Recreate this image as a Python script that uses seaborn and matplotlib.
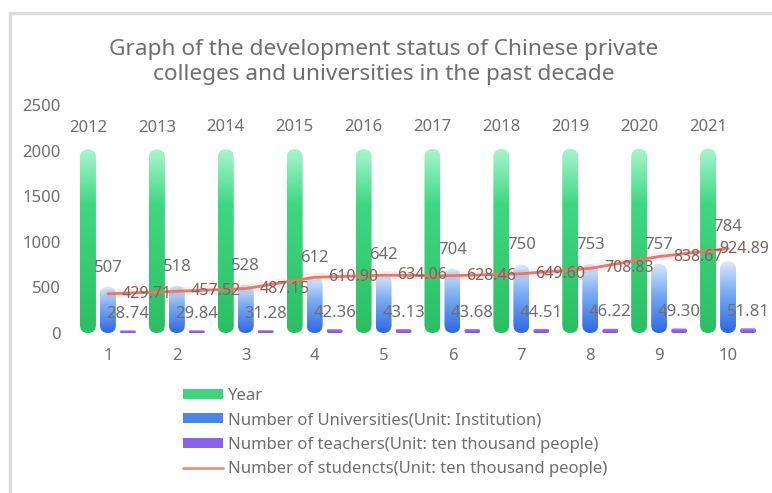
import numpy as np
import pandas as pd
import matplotlib
matplotlib.use("Agg")
import matplotlib.pyplot as plt
import seaborn as sns
from matplotlib.patches import FancyBboxPatch, Patch
from matplotlib.lines import Line2D
from matplotlib.colors import LinearSegmentedColormap

# ---------------- data ----------------
positions = [str(i) for i in range(1, 11)]
years = [2012, 2013, 2014, 2015, 2016, 2017, 2018, 2019, 2020, 2021]
universities = [507, 518, 528, 612, 642, 704, 750, 753, 757, 784]
teachers = [28.74, 29.84, 31.28, 42.36, 43.13, 43.68, 44.51, 46.22, 49.30, 51.81]
students = [429.71, 457.52, 487.15, 610.90, 634.06, 628.46, 649.60, 708.83, 838.67, 924.89]
series_names = [
    "Year",
    "Number of Universities(Unit: Institution)",
    "Number of teachers(Unit: ten thousand people)",
    "Number of studencts(Unit: ten thousand people)",
]
title = ("Graph of the development status of Chinese private\n"
         "colleges and universities in the past decade")
y_ticks = [0, 500, 1000, 1500, 2000, 2500]

# ---------------- style ----------------
sns.set_theme(style="white")
plt.rcParams["font.family"] = ["Noto Sans", "DejaVu Sans"]
TXT = "#6f6f6f"

W, H = 772, 493
fig = plt.figure(figsize=(W / 100, H / 100), dpi=100)
ax_l, ax_r, ax_t, ax_b = 73.5, 762.5, 105, 333
ax = fig.add_axes([ax_l / W, 1 - ax_b / H, (ax_r - ax_l) / W, (ax_b - ax_t) / H])

df = pd.DataFrame({
    "pos": positions * 3,
    "value": years + universities + teachers,
    "series": [series_names[0]] * 10 + [series_names[1]] * 10 + [series_names[2]] * 10,
})
solid = ["#3dd27c", "#4a86ea", "#8a62ec"]
sns.barplot(data=df, x="pos", y="value", hue="series", order=positions,
            hue_order=series_names[:3], palette=solid, width=0.87, gap=0.2,
            saturation=1, errorbar=None, legend=False, ax=ax)

line_color = "#e8786a"
sns.lineplot(x=np.arange(10), y=students, ax=ax, color=line_color, lw=6,
             alpha=0.12, legend=False, zorder=4)
sns.lineplot(x=np.arange(10), y=students, ax=ax, color=line_color, lw=2,
             legend=False, zorder=5)

ax.set_xlim(-0.5, 9.5)
ax.set_ylim(0, 2500)
ax.set_yticks(y_ticks)
ax.set_yticklabels([str(v) for v in y_ticks])
ax.set_xlabel("")
ax.set_ylabel("")
for s in ax.spines.values():
    s.set_visible(False)
ax.tick_params(axis="y", length=0, labelsize=12, labelcolor=TXT, pad=9)
ax.tick_params(axis="x", length=0, labelsize=12, labelcolor=TXT, pad=11)
ax.grid(False)

# ---------------- gradient rounded bars ----------------
px_x = (ax_r - ax_l) / 10.0
px_y = (ax_b - ax_t) / 2500.0
grads = [
    LinearSegmentedColormap.from_list("g", [(0, "#2bbf62"), (0.7, "#3fd882"), (1, "#a8f5cf")]),
    LinearSegmentedColormap.from_list("b", [(0, "#2d68e4"), (0.6, "#7fb0f2"), (1, "#dce9fb")]),
    LinearSegmentedColormap.from_list("p", [(0, "#7a52e4"), (1, "#a47cf2")]),
]
grad_img = np.linspace(0, 1, 256).reshape(-1, 1)
for cont, cmap in zip(ax.containers, grads):
    for bar in cont:
        x0, y0 = bar.get_x(), bar.get_y()
        w, h = bar.get_width(), bar.get_height()
        bar.set_visible(False)
        R = min(w * px_x / 2, h * px_y / 2)
        rx = R / px_x
        clip = FancyBboxPatch((x0, y0), w, h,
                              boxstyle=f"round,pad=0,rounding_size={rx}",
                              mutation_aspect=px_x / px_y,
                              transform=ax.transData, facecolor="none",
                              edgecolor="none")
        ax.add_patch(clip)
        im = ax.imshow(grad_img, extent=(x0, x0 + w, y0, y0 + h), origin="lower",
                       cmap=cmap, aspect="auto", zorder=2, interpolation="bilinear")
        im.set_clip_path(clip)

ax.set_xlim(-0.5, 9.5)
ax.set_ylim(0, 2500)

# ---------------- labels ----------------
pads = [10, 8, 6]
fmts = ["%d", "%d", "%.2f"]
for k, (cont, pad, fmt) in enumerate(zip(ax.containers, pads, fmts)):
    texts = ax.bar_label(cont, fmt=fmt, padding=pad, fontsize=12, color=TXT, zorder=6)
    if k == 1:
        # last university label is lifted to clear the student label (as in reference)
        texts[-1].xyann = (0, pad + 11)

for i, v in enumerate(students):
    dx = 10 if i < len(students) - 1 else -6
    ax.annotate(f"{v:.2f}", (i, v), xytext=(dx, 0), textcoords="offset points",
                ha="left", va="center", fontsize=11.5, color="#7a6660", zorder=7)

fig.text(384 / W, 1 - 62 / H, title, ha="center", va="center", fontsize=16.3,
         color=TXT, linespacing=1.25)

# ---------------- legend ----------------
handles = [
    Patch(facecolor="#3fd47e", edgecolor="none"),
    Patch(facecolor="#4a86ea", edgecolor="none"),
    Patch(facecolor="#8a62ec", edgecolor="none"),
    Line2D([0], [0], color="#e0958a", lw=2),
]
leg = fig.legend(handles, series_names, loc="upper left",
                 bbox_to_anchor=(183 / W, 1 - 388 / H), frameon=False,
                 fontsize=12, handlelength=2.4, handleheight=0.55,
                 handletextpad=0.3, labelspacing=0.5, borderpad=0,
                 borderaxespad=0)
for t in leg.get_texts():
    t.set_color(TXT)

# ---------------- frame lines ----------------
fig.add_artist(Line2D([10 / W, 1], [1 - 13 / H, 1 - 13 / H], color="#dcdcdc", lw=2.5,
                      transform=fig.transFigure))
fig.add_artist(Line2D([10 / W, 10 / W], [0, 1 - 13 / H], color="#dcdcdc", lw=2.5,
                      transform=fig.transFigure))

fig.savefig("out.png", dpi=100, facecolor="white")
